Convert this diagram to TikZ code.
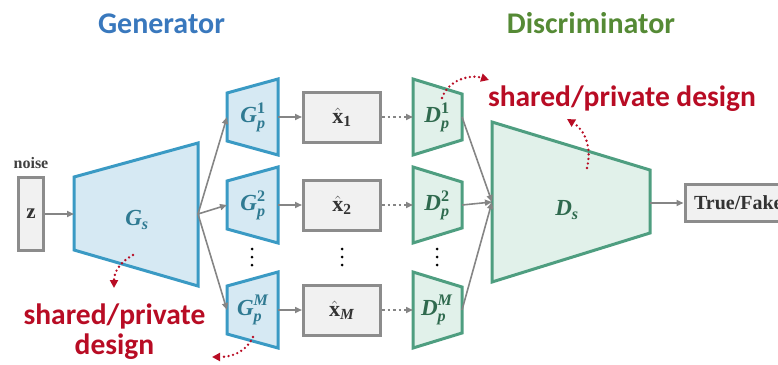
\documentclass[tikz,border=0pt]{standalone}
\usepackage{amsmath}
\usepackage{fontspec}
\setmainfont{Liberation Serif}
\newfontfamily\calibri{Carlito}
\usetikzlibrary{arrows.meta}
\definecolor{genline}{HTML}{3A9AC4}
\definecolor{genfill}{HTML}{D6E9F3}
\definecolor{gentext}{HTML}{2F7A92}
\definecolor{disline}{HTML}{4E9E80}
\definecolor{disfill}{HTML}{E1F1EA}
\definecolor{distext}{HTML}{2F6A4E}
\definecolor{boxline}{HTML}{8C8C8C}
\definecolor{boxfill}{HTML}{F1F1F1}
\definecolor{arrowgray}{HTML}{858585}
\definecolor{remarkred}{HTML}{B80C24}
\definecolor{titleblue}{HTML}{3978BD}
\definecolor{titlegreen}{HTML}{558A35}
\newcommand{\bi}[1]{\textbf{\textit{#1}}}
\begin{document}
\begin{tikzpicture}[x=1pt,y=-1pt,line join=miter,
  genshape/.style={draw=genline,fill=genfill,line width=3pt},
  disshape/.style={draw=disline,fill=disfill,line width=3pt},
  databox/.style={draw=boxline,fill=boxfill,line width=3pt,inner sep=0pt},
  flow/.style={draw=arrowgray,line width=1.6pt,-{Triangle[length=7pt,width=6pt]}},
  flowdot/.style={flow,dash pattern=on 2.5pt off 3pt},
  remark/.style={draw=remarkred,line width=2.6pt,line cap=round,dash pattern=on 0pt off 4.6pt,-{Triangle[length=8pt,width=8pt]}},
  title/.style={font=\calibri\bfseries\fontsize{30}{32}\selectfont,anchor=base},
  remarktext/.style={text=remarkred,font=\calibri\bfseries\fontsize{29.5}{32}\selectfont,anchor=base},
  genlabel/.style={text=gentext,font=\fontsize{23}{26}\selectfont},
  dislabel/.style={text=distext,font=\fontsize{23}{26}\selectfont},
  vdots/.style={fill=black,circle,inner sep=0pt,minimum size=3pt}]
\useasboundingbox (0,0) rectangle (778,364);
\clip (0,0) rectangle (778,364);

% titles
\node[title,text=titleblue] (gentitle) at (161.5,33) {Generator};
\node[title,text=titlegreen] (distitle) at (591,33) {Discriminator};

% noise input
\node[font=\bfseries\fontsize{16}{18}\selectfont,text=black!75] (noise) at (31,163) {noise};
\node[databox,minimum width=25pt,minimum height=73pt,font=\bfseries\fontsize{21}{22}\selectfont,text=black!80] (z) at (31,214) {z};

% shared generator
\draw[genshape] (74,177) -- (198,143) -- (198,286) -- (74,250) -- cycle;
\coordinate (gsin) at (74,214);
\coordinate (gsout) at (198,214);
\node[genlabel] (gs) at (137,220) {\(\bi{G}_{\bi{s}}\)};
\draw[flow] (z) -- (gsin);

% private generators, samples, private discriminators
\foreach \y/\n/\s in {117/1/1, 205/2/2, 310/m/\bi{M}}{
  \draw[genshape] (227,\y-24) -- (278,\y-38) -- (278,\y+38) -- (227,\y+24) -- cycle;
  \coordinate (gpin\n) at (227,\y);
  \coordinate (gpout\n) at (278,\y);
  \node[genlabel] (gp\n) at (253,\y) {\(\bi{G}_{\bi{p}}^{\textbf{\s}}\)};
  \node[databox,minimum width=77pt,minimum height=50pt,font=\fontsize{22}{24}\selectfont,text=black!80] (x\n) at (342,\y) {\(\hat{\textbf{x}}_{\textbf{\s}}\)};
  \draw[disshape] (413,\y-38) -- (462,\y-23) -- (462,\y+23) -- (413,\y+38) -- cycle;
  \coordinate (dpin\n) at (413,\y);
  \coordinate (dpout\n) at (462,\y);
  \node[dislabel] (dp\n) at (437,\y) {\(\bi{D}_{\bi{p}}^{\textbf{\s}}\)};
  \draw[flow] (gsout) -- (gpin\n);
  \draw[flow] (gpout\n) -- (x\n);
  \draw[flowdot] (x\n) -- (dpin\n);
}

% vertical dots
\foreach \x in {252,342,437}
  \foreach \y in {249,257,265}
    \node[vdots] at (\x,\y) {};

% shared discriminator
\draw[disshape] (492,122) -- (650,170) -- (650,233) -- (492,282) -- cycle;
\coordinate (dsin) at (492,202);
\coordinate (dsout) at (650,203);
\node[dislabel] (ds) at (567,210) {\(\bi{D}_{\bi{s}}\)};
\foreach \n in {1,2,m}
  \draw[flow] (dpout\n) -- (dsin);

% output
\node[databox,anchor=west,minimum height=37pt,inner xsep=9pt,font=\bfseries\fontsize{20}{22}\selectfont,text=black!80] (out) at (683.5,203) {True/Fake};
\draw[flow] (dsout) -- (out);

% shared/private remarks
\node[remarktext] (remarkgA) at (114.5,324) {shared/private};
\node[remarktext] (remarkgB) at (114.5,354) {design};
\node[remarktext] (remarkd) at (622,106) {shared/private design};
\coordinate (gsbot) at (133,255);
\coordinate (gsarrow) at (114,288);
\coordinate (gpbot) at (253,337);
\coordinate (gparrow) at (212,357);
\coordinate (dptop) at (442,98);
\coordinate (dparrow) at (489,80);
\coordinate (dstop) at (587,168);
\coordinate (dsarrow) at (567,119);
\draw[remark] (gsbot) .. controls (120,262) and (114,272) .. (gsarrow);
\draw[remark] (gpbot) .. controls (246,352) and (232,357) .. (gparrow);
\draw[remark] (dptop) .. controls (448,80) and (470,74) .. (dparrow);
\draw[remark] (dstop) .. controls (592,148) and (585,130) .. (dsarrow);
\end{tikzpicture}
\end{document}
